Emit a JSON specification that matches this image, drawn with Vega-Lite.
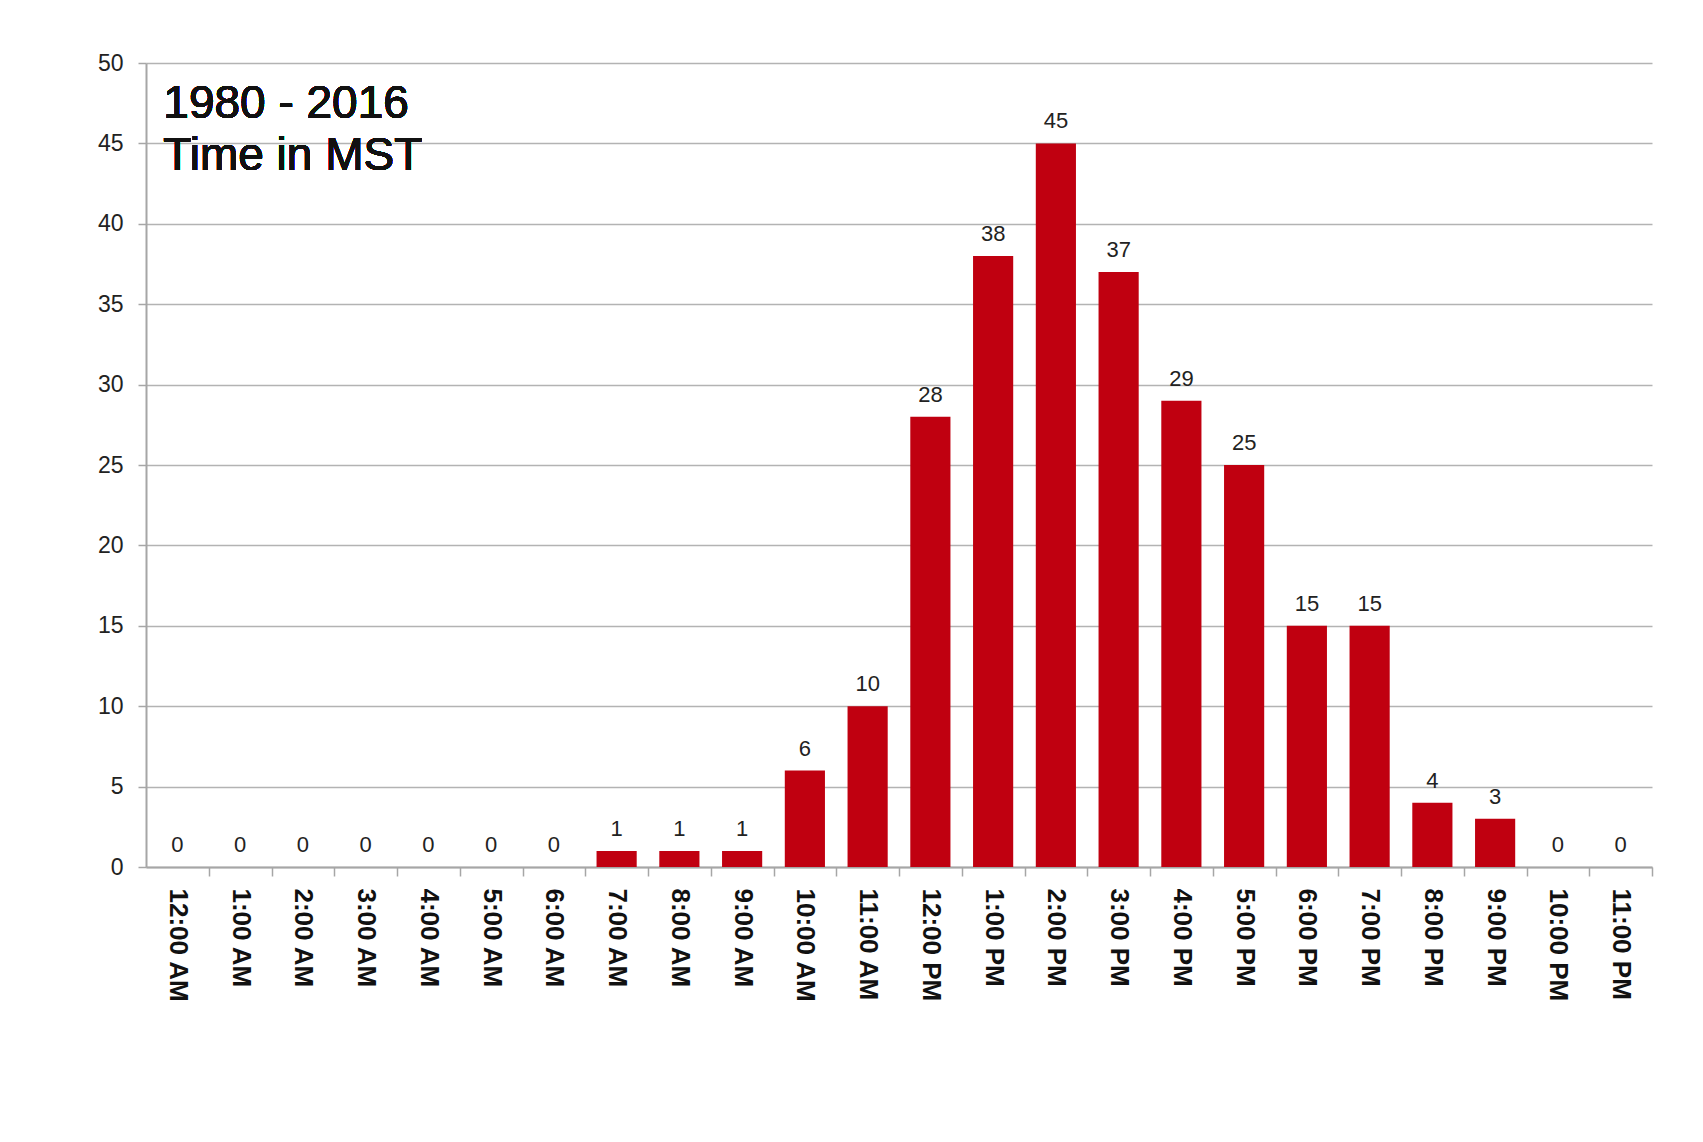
{
  "$schema": "https://vega.github.io/schema/vega-lite/v6.json",
  "autosize": "none",
  "width": 1506,
  "height": 804,
  "padding": {"left": 146, "top": 63, "right": 51, "bottom": 275},
  "background": "white",
  "config": {
    "view": {"stroke": null},
    "font": "Liberation Sans"
  },
  "data": {
    "values": [
      {"hour": "12:00 AM", "count": 0},
      {"hour": "1:00 AM", "count": 0},
      {"hour": "2:00 AM", "count": 0},
      {"hour": "3:00 AM", "count": 0},
      {"hour": "4:00 AM", "count": 0},
      {"hour": "5:00 AM", "count": 0},
      {"hour": "6:00 AM", "count": 0},
      {"hour": "7:00 AM", "count": 1},
      {"hour": "8:00 AM", "count": 1},
      {"hour": "9:00 AM", "count": 1},
      {"hour": "10:00 AM", "count": 6},
      {"hour": "11:00 AM", "count": 10},
      {"hour": "12:00 PM", "count": 28},
      {"hour": "1:00 PM", "count": 38},
      {"hour": "2:00 PM", "count": 45},
      {"hour": "3:00 PM", "count": 37},
      {"hour": "4:00 PM", "count": 29},
      {"hour": "5:00 PM", "count": 25},
      {"hour": "6:00 PM", "count": 15},
      {"hour": "7:00 PM", "count": 15},
      {"hour": "8:00 PM", "count": 4},
      {"hour": "9:00 PM", "count": 3},
      {"hour": "10:00 PM", "count": 0},
      {"hour": "11:00 PM", "count": 0}
    ]
  },
  "encoding": {
    "x": {
      "field": "hour",
      "type": "nominal",
      "sort": null,
      "scale": {"paddingInner": 0.36, "paddingOuter": 0.18},
      "axis": {
        "title": null,
        "labelAngle": 90,
        "labelAlign": "left",
        "labelBaseline": "middle",
        "labelFontSize": 26,
        "labelFontWeight": "bold",
        "labelColor": "#111111",
        "labelPadding": 12,
        "labelOffset": -11.3,
        "bandPosition": 1,
        "tickOffset": 11.3,
        "tickColor": "#a6a6a6",
        "tickSize": 9,
        "tickWidth": 1.5,
        "domainColor": "#a6a6a6",
        "domainWidth": 2,
        "grid": false
      }
    },
    "y": {
      "field": "count",
      "type": "quantitative",
      "scale": {"domain": [0, 50], "nice": false},
      "axis": {
        "title": null,
        "values": [0, 5, 10, 15, 20, 25, 30, 35, 40, 45, 50],
        "labelFontSize": 23,
        "labelColor": "#222222",
        "labelPadding": 15,
        "tickColor": "#a6a6a6",
        "tickSize": 8,
        "tickWidth": 1.5,
        "domainColor": "#a6a6a6",
        "domainWidth": 2,
        "gridColor": "#b3b3b3",
        "gridWidth": 1.5
      }
    }
  },
  "layer": [
    {"mark": {"type": "bar", "color": "#C00010"}},
    {
      "mark": {"type": "text", "fontSize": 22, "color": "#222222", "baseline": "alphabetic", "dy": -15},
      "encoding": {"text": {"field": "count", "type": "quantitative"}}
    },
    {
      "mark": {
        "type": "text",
        "text": ["1980 - 2016", "Time in MST"],
        "fontSize": 46,
        "lineHeight": 52,
        "align": "left",
        "baseline": "alphabetic",
        "color": "#111111",
        "dx": 6
      },
      "encoding": {
        "x": {"datum": "12:00 AM", "bandPosition": 0},
        "y": {"datum": 46.6},
        "text": null
      }
    }
  ]
}
